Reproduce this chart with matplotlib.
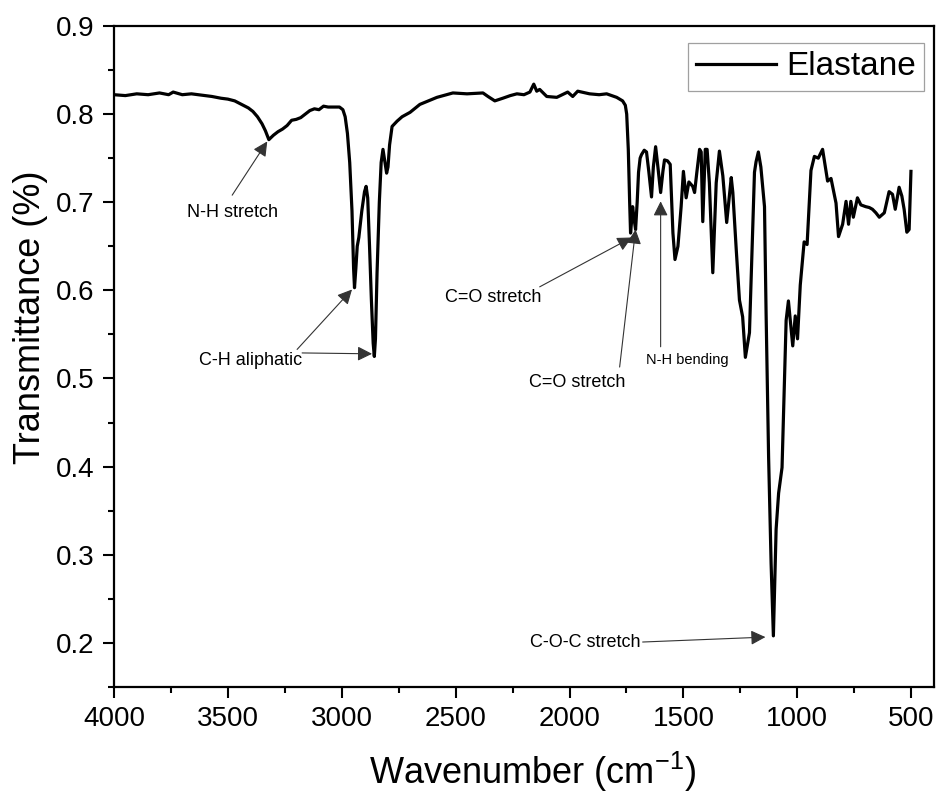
import matplotlib
matplotlib.use("Agg")
import matplotlib.pyplot as plt
from matplotlib.ticker import MultipleLocator

plt.rcParams['font.family'] = ['Liberation Sans', 'DejaVu Sans']
plt.rcParams['mathtext.fontset'] = 'custom'
plt.rcParams['mathtext.rm'] = 'Liberation Sans'
plt.rcParams['mathtext.default'] = 'regular'

# ---- traced spectrum (wavenumber cm-1, transmittance) ----
wavenumber = [
    4000, 3950, 3900, 3850, 3800, 3760, 3740, 3700, 3660, 3630, 3600, 3570,
    3530, 3500, 3470, 3440, 3410, 3390, 3370, 3350, 3335, 3320, 3300, 3280,
    3260, 3240, 3220, 3200, 3180, 3160, 3140, 3120, 3100, 3080, 3060, 3040,
    3010, 2995, 2985, 2975, 2965, 2955, 2948, 2944, 2938, 2932, 2925, 2912,
    2900, 2893, 2886, 2878, 2870, 2862, 2857, 2852, 2845, 2835, 2827, 2819,
    2812, 2803, 2797, 2790, 2779, 2757, 2735, 2700, 2657, 2620, 2582, 2512,
    2450, 2380, 2358, 2328, 2293, 2260, 2231, 2200, 2174, 2157, 2144, 2131,
    2100, 2056, 2008, 1986, 1964, 1912, 1870, 1837, 1793, 1767, 1755, 1749,
    1742, 1736, 1732, 1727, 1723, 1716, 1710, 1703, 1697, 1690, 1684, 1672,
    1662, 1652, 1640, 1632, 1622, 1612, 1600, 1590, 1583, 1570, 1558, 1546,
    1537, 1524, 1510, 1500, 1488, 1476, 1459, 1451, 1441, 1429, 1422, 1415,
    1404, 1396, 1386, 1371, 1356, 1342, 1327, 1310, 1290, 1283, 1268, 1254,
    1240, 1228, 1210, 1196, 1188, 1181, 1171, 1160, 1144, 1137, 1126, 1115,
    1105, 1093, 1082, 1067, 1057, 1049, 1039, 1020, 1009, 999, 987, 970,
    957, 940, 925, 908, 889, 867, 852, 830, 819, 801, 786, 775,
    765, 754, 736, 721, 700, 684, 670, 655, 640, 618, 597, 582,
    570, 553, 541, 531, 519, 509, 501,
]
transmittance = [
    0.822, 0.821, 0.823, 0.822, 0.824, 0.822, 0.825, 0.822, 0.823, 0.822, 0.821, 0.820,
    0.818, 0.817, 0.815, 0.811, 0.807, 0.803, 0.797, 0.789, 0.781, 0.771, 0.776, 0.780,
    0.783, 0.787, 0.793, 0.794, 0.796, 0.800, 0.804, 0.806, 0.805, 0.809, 0.808, 0.808,
    0.808, 0.805, 0.797, 0.778, 0.745, 0.690, 0.625, 0.603, 0.625, 0.650, 0.660, 0.690,
    0.712, 0.718, 0.705, 0.650, 0.590, 0.540, 0.525, 0.545, 0.620, 0.700, 0.745, 0.760,
    0.748, 0.733, 0.740, 0.765, 0.786, 0.792, 0.797, 0.802, 0.811, 0.815, 0.819, 0.824,
    0.823, 0.824, 0.820, 0.815, 0.818, 0.821, 0.823, 0.822, 0.825, 0.834, 0.826, 0.828,
    0.820, 0.819, 0.825, 0.820, 0.826, 0.823, 0.822, 0.823, 0.819, 0.815, 0.810, 0.800,
    0.760, 0.700, 0.665, 0.680, 0.695, 0.680, 0.669, 0.700, 0.734, 0.750, 0.754, 0.759,
    0.757, 0.735, 0.706, 0.740, 0.763, 0.740, 0.711, 0.735, 0.748, 0.747, 0.743, 0.665,
    0.635, 0.650, 0.695, 0.735, 0.705, 0.723, 0.718, 0.711, 0.734, 0.760, 0.757, 0.678,
    0.760, 0.760, 0.722, 0.620, 0.722, 0.758, 0.730, 0.677, 0.728, 0.711, 0.646, 0.589,
    0.570, 0.524, 0.552, 0.666, 0.734, 0.746, 0.757, 0.740, 0.695, 0.574, 0.411, 0.290,
    0.208, 0.329, 0.370, 0.399, 0.492, 0.566, 0.588, 0.537, 0.571, 0.545, 0.606, 0.655,
    0.652, 0.736, 0.752, 0.750, 0.760, 0.724, 0.727, 0.699, 0.661, 0.675, 0.701, 0.675,
    0.701, 0.683, 0.705, 0.697, 0.695, 0.694, 0.692, 0.688, 0.683, 0.688, 0.712, 0.709,
    0.692, 0.717, 0.707, 0.692, 0.666, 0.669, 0.735,
]

series_label = "Elastane"
x_label = "Wavenumber (cm$^{-1}$)"
y_label = "Transmittance (%)"
x_ticks = [4000, 3500, 3000, 2500, 2000, 1500, 1000, 500]
y_ticks = [0.2, 0.3, 0.4, 0.5, 0.6, 0.7, 0.8, 0.9]

fig = plt.figure(figsize=(9.38, 7.94), dpi=100)
ax = fig.add_axes([0.1215, 0.1348, 0.8742, 0.8325])

ax.plot(wavenumber, transmittance, color='black', lw=2.3, label=series_label,
        solid_joinstyle='round')

ax.set_xlim(4000, 400)
ax.set_ylim(0.15, 0.9)
ax.set_xticks(x_ticks)
ax.set_yticks(y_ticks)
ax.set_yticklabels([f"{v:.1f}" for v in y_ticks])
ax.xaxis.set_minor_locator(MultipleLocator(250))
ax.yaxis.set_minor_locator(MultipleLocator(0.05))

for s in ax.spines.values():
    s.set_linewidth(1.6)
ax.tick_params(which='major', direction='out', length=8, width=1.5,
               labelsize=20, pad=6, top=False, right=False)
ax.tick_params(which='minor', direction='out', length=4, width=1.5,
               top=False, right=False)

ax.set_xlabel(x_label, fontsize=26)
ax.set_ylabel(y_label, fontsize=26)
ax.xaxis.set_label_coords(0.51, -0.128)
ax.xaxis.label.set_verticalalignment('center')
ax.yaxis.set_label_coords(-0.102, 0.56)
ax.yaxis.label.set_verticalalignment('center')

leg = ax.legend(loc='upper right', bbox_to_anchor=(0.988, 0.974),
                borderaxespad=0, fontsize=24, frameon=True, fancybox=False,
                handlelength=2.4, handletextpad=0.3, borderpad=0.25)
leg.get_frame().set_edgecolor('#888888')
leg.get_frame().set_linewidth(0.9)

arrow_kw = dict(arrowstyle='-|>', color='#333333', lw=0.8,
                mutation_scale=22, shrinkA=0, shrinkB=0)
ann_fs = 13

# N-H stretch
ax.text(3481, 0.688, "N-H stretch", fontsize=ann_fs, ha='center', va='center')
ax.annotate('', xy=(3327, 0.769), xytext=(3481, 0.708), arrowprops=arrow_kw)
# C-H aliphatic
ax.text(3402, 0.520, "C-H aliphatic", fontsize=ann_fs, ha='center', va='center')
ax.annotate('', xy=(2955, 0.601), xytext=(3196, 0.533), arrowprops=arrow_kw)
ax.annotate('', xy=(2867, 0.528), xytext=(3174, 0.529), arrowprops=arrow_kw)
# C=O stretch 1
ax.text(2337, 0.592, "C=O stretch", fontsize=ann_fs, ha='center', va='center')
ax.annotate('', xy=(1727, 0.660), xytext=(2131, 0.604), arrowprops=arrow_kw)
# C=O stretch 2
ax.text(1968, 0.496, "C=O stretch", fontsize=ann_fs, ha='center', va='center')
ax.annotate('', xy=(1710, 0.669), xytext=(1780, 0.513), arrowprops=arrow_kw)
# N-H bending
ax.text(1482, 0.521, "N-H bending", fontsize=10.5, ha='center', va='center')
ax.annotate('', xy=(1600, 0.701), xytext=(1600, 0.536), arrowprops=arrow_kw)
# C-O-C stretch
ax.text(1929, 0.200, "C-O-C stretch", fontsize=ann_fs, ha='center', va='center')
ax.annotate('', xy=(1140, 0.2066), xytext=(1679, 0.201), arrowprops=arrow_kw)

fig.savefig("out.png", dpi=100)
